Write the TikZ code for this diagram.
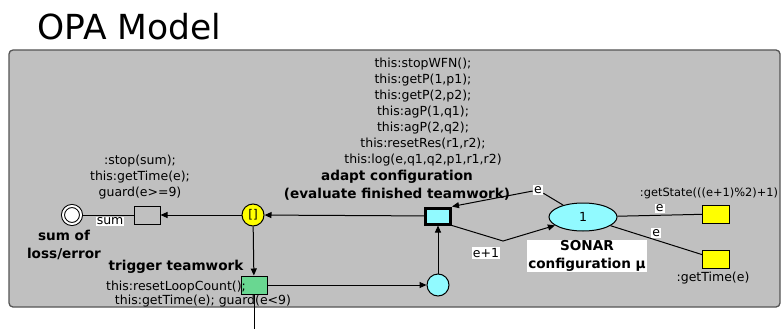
\documentclass[tikz,border=0pt]{standalone}
\usepackage{fontspec}
\setmainfont{DejaVu Sans}
\usetikzlibrary{arrows.meta,shapes.geometric}
\definecolor{bggray}{RGB}{192,192,192}
\definecolor{frame}{RGB}{85,85,85}
\definecolor{lcyan}{RGB}{145,250,255}
\definecolor{lgreen}{RGB}{105,215,145}
\definecolor{lyellow}{RGB}{255,255,0}

\begin{document}
\begin{tikzpicture}[x=1pt, y=-1pt, line width=1pt,
    place/.style = {draw, circle, minimum size=22pt, inner sep=0pt},
    trans/.style = {draw, rectangle, minimum width=26pt, minimum height=18pt, inner sep=0pt},
    code/.style = {font=\fontsize{12.5}{16}\selectfont, align=center, inner sep=0pt},
    head/.style = {font=\bfseries\fontsize{13.6}{17.5}\selectfont, align=center, inner sep=0pt},
    lbl/.style = {fill=white, font=\fontsize{12.5}{14}\selectfont, inner sep=1pt},
    arc/.style = {-{Triangle[length=7pt,width=6pt]}}]
    \useasboundingbox (0,0) rectangle (783,329);
    \node[anchor=base west, inner sep=0pt, font=\fontsize{34.5}{40}\selectfont] (title) at (37,40) {OPA Model};
    \draw[fill=bggray, draw=frame, line width=1.3pt, rounded corners=4pt] (9,50) rectangle (780,307);

    \node[place, fill=white, double=white, double distance=2pt, minimum size=18pt] (sum) at (72,215) {};
    \node[trans, fill=bggray] (stop) at (147,215) {};
    \node[place, fill=lyellow, font=\fontsize{12}{13}\selectfont] (choice) at (253,215) {[]};
    \node[trans, fill=lcyan, line width=3pt, minimum width=25pt, minimum height=16pt] (adapt) at (438,216) {};
    \node[draw, ellipse, fill=lcyan, minimum width=68pt, minimum height=28pt, inner sep=0pt,
          font=\fontsize{12.5}{14}\selectfont] (sonar) at (583,217) {1};
    \node[trans, fill=lyellow, minimum width=27pt] (getstate) at (716,214) {};
    \node[trans, fill=lyellow, minimum width=27pt] (gettime) at (716,259) {};
    \node[trans, fill=lgreen] (trigger) at (254,285) {};
    \node[place, fill=lcyan] (ready) at (438,285) {};
    \coordinate (down) at (254,329);
    \coordinate (bend) at (503,241);

    \node[code] (stopcode) at (140,177) {:stop(sum);\\this:getTime(e);\\guard(e>=9)};
    \node[head] (sumlbl) at (64,245) {sum of\\loss/error};
    \node[head] (adaptlbl) at (397,185) {adapt configuration\\(evaluate finished teamwork)};
    \node[code] (adaptcode) at (423,112) {this:stopWFN();\\this:getP(1,p1);\\this:getP(2,p2);\\this:agP(1,q1);\\this:agP(2,q2);\\this:resetRes(r1,r2);\\this:log(e,q1,q2,p1,r1,r2)};
    \node[head, fill=white, inner sep=1pt] (sonarlbl) at (587,256) {SONAR\\configuration μ};
    \node[code, font=\fontsize{11.4}{16}\selectfont] (getstatelbl) at (709,193) {:getState(((e+1)\%2)+1)};
    \node[code] (gettimelbl) at (713,278) {:getTime(e)};
    \node[head] (triggerlbl) at (176,267) {trigger teamwork};
    \node[code] (triggercode1) at (176,287) {this:resetLoopCount();};
    \node[code] (triggercode2) at (203,301) {this:getTime(e); guard(e<9)};

    \draw (stop) -- node[lbl, pos=0.45, below=1pt] {sum} (sum);
    \draw[arc] (choice) -- (stop);
    \draw[arc] (adapt) -- (choice);
    \draw[arc] (choice) -- (trigger);
    \draw (trigger) -- (down);
    \draw[arc] (trigger) -- (ready);
    \draw[arc] (ready) -- (adapt);
    \node[lbl] (ein) at (538,190) {e};
    \draw[arc] (sonar) -- (ein) -- (adapt.north east);
    \draw[arc] (adapt.south east) -- (bend) -- (sonar);
    \node[lbl] (eout) at (486,253) {e+1};
    \draw (sonar) -- node[lbl, pos=0.5, above=2pt] {e} (getstate);
    \draw (sonar) -- node[lbl, pos=0.5, above=2pt] {e} (gettime);
\end{tikzpicture}
\end{document}
